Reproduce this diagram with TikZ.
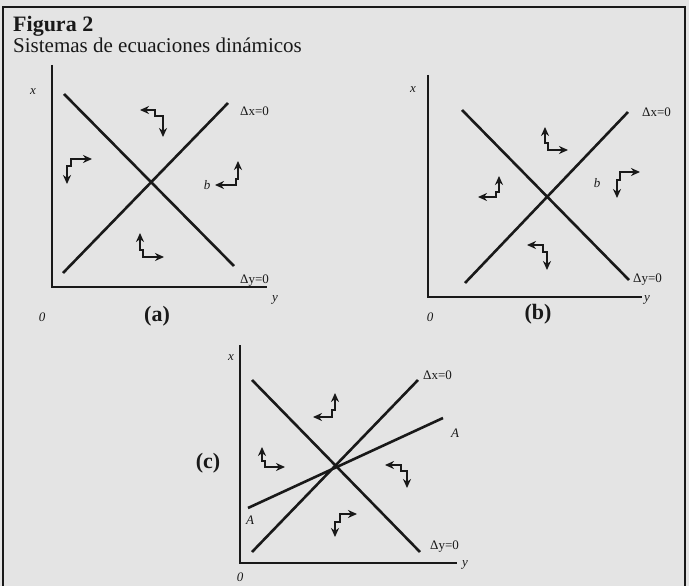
\documentclass[tikz,border=0pt]{standalone}
\usepackage{fontspec}
\setmainfont{Liberation Serif}
\usetikzlibrary{arrows.meta}
\definecolor{scan}{RGB}{228,228,228}
\definecolor{ink}{RGB}{25,25,25}

\begin{document}
\begin{tikzpicture}[x=1pt, y=-1pt,
  curve/.style={draw=ink, line width=2.6pt},
  axis/.style={draw=ink, line width=2.2pt},
  flow/.style={draw=ink, line width=2pt, line join=miter,
    {Stealth[length=9pt,width=8pt]}-{Stealth[length=9pt,width=8pt]}},
  lbl/.style={font=\fontsize{13}{15}\selectfont, text=ink, inner sep=0pt},
  axl/.style={font=\fontsize{13}{15}\selectfont\itshape, text=ink, inner sep=0pt},
  tag/.style={font=\fontsize{22}{26}\selectfont\bfseries, text=ink, inner sep=0pt},
]
% page and frame (pixel units, y downwards)
\fill[scan] (0,0) rectangle (689,586);
\useasboundingbox (0,0) rectangle (689,586);
\draw[ink, line width=1.5pt] (3,592) -- (3,7) -- (685,7) -- (685,592);

% heading
\node[tag, anchor=base west] (title) at (13,32) {Figura 2};
\node[font=\fontsize{21}{25}\selectfont, text=ink, inner sep=0pt, anchor=base west] (subtitle) at (13,53) {Sistemas de ecuaciones dinámicos};

% panel (a)
\coordinate (Oa) at (52,287);
\draw[axis] (52,65) -- (Oa) -- (267,287);
\draw[curve] (64,94) -- (234,266);   % dy=0
\draw[curve] (63,273) -- (228,103);  % dx=0
\node[axl] (xa) at (33,92) {x};
\node[axl] (ya) at (275,300) {y};
\node[axl] (za) at (42,317) {0};
\node[tag] (ta) at (157,316) {(a)};
\node[lbl, anchor=west] (dxa) at (240,111) {Δx=0};
\node[lbl, anchor=west] (dya) at (240,281) {Δy=0};
\node[axl] (ba) at (207,185) {b};
\draw[flow] (140,110) -- (155,110) -- (155,116) -- (163,116) -- (163,137);
\draw[flow] (92,159) -- (71,159) -- (71,166) -- (67,166) -- (67,184);
\draw[flow] (215,185) -- (236,185) -- (236,179) -- (238,179) -- (238,161);
\draw[flow] (140,233) -- (140,250) -- (143,250) -- (143,257) -- (164,257);

% panel (b)
\coordinate (Ob) at (428,297);
\draw[axis] (428,75) -- (Ob) -- (642,297);
\draw[curve] (462,110) -- (629,280);  % dy=0
\draw[curve] (465,283) -- (628,112);  % dx=0
\node[axl] (xb) at (413,90) {x};
\node[axl] (yb) at (647,300) {y};
\node[axl] (zb) at (430,317) {0};
\node[tag] (tb) at (538,314) {(b)};
\node[lbl, anchor=west] (dxb) at (642,112) {Δx=0};
\node[lbl, anchor=west] (dyb) at (633,280) {Δy=0};
\node[axl] (bb) at (597,183) {b};
\draw[flow] (545,127) -- (545,143) -- (548,143) -- (548,150) -- (568,150);
\draw[flow] (640,172) -- (620,172) -- (620,180) -- (617,180) -- (617,198);
\draw[flow] (499,176) -- (499,192) -- (496,192) -- (496,197) -- (478,197);
\draw[flow] (527,245) -- (543,245) -- (543,252) -- (547,252) -- (547,270);

% panel (c)
\coordinate (Oc) at (240,563);
\draw[axis] (240,345) -- (Oc) -- (457,563);
\draw[curve] (252,380) -- (420,552);  % dy=0
\draw[curve] (252,552) -- (418,380);  % dx=0
\draw[curve] (248,508) -- (443,418);  % AA
\node[axl] (xc) at (231,358) {x};
\node[axl] (yc) at (465,565) {y};
\node[axl] (zc) at (240,577) {0};
\node[tag] (tc) at (208,463) {(c)};
\node[lbl, anchor=west] (dxc) at (423,375) {Δx=0};
\node[lbl, anchor=west] (dyc) at (430,547) {Δy=0};
\node[axl] (Ahi) at (455,433) {A};
\node[axl] (Alo) at (250,520) {A};
\draw[flow] (335,393) -- (335,410) -- (332,410) -- (332,417) -- (313,417);
\draw[flow] (262,447) -- (262,461) -- (265,461) -- (265,467) -- (285,467);
\draw[flow] (385,465) -- (401,465) -- (401,471) -- (407,471) -- (407,488);
\draw[flow] (357,514) -- (340,514) -- (340,522) -- (335,522) -- (335,537);
\end{tikzpicture}
\end{document}
